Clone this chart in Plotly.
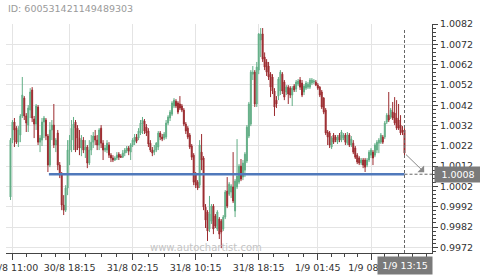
import plotly.graph_objects as go

# ---------------- data ----------------
open_ = [0.99968, 1.00248, 1.00337, 1.00307, 1.00238, 1.00273, 1.00367, 1.00455, 1.00367, 1.00322,
         1.00396, 1.00495, 1.00352, 1.00327, 1.00411, 1.00238, 1.00248, 1.00337, 1.00347, 1.00268,
         1.00125, 1.00298, 1.00322, 1.00224, 1.00283, 1.00125, 1.00076, 0.99928, 0.99903, 1.00012,
         1.00199, 1.00248, 1.00307, 1.00337, 1.00307, 1.00258, 1.00209, 1.00248, 1.00199, 1.00214,
         1.00135, 1.00199, 1.00238, 1.00268, 1.00248, 1.00224, 1.00307, 1.00233, 1.00199, 1.00199,
         1.00224, 1.00174, 1.00160, 1.00150, 1.00160, 1.00179, 1.00169, 1.00164, 1.00184, 1.00194,
         1.00209, 1.00189, 1.00224, 1.00238, 1.00263, 1.00258, 1.00283, 1.00327, 1.00342, 1.00312,
         1.00293, 1.00233, 1.00199, 1.00189, 1.00199, 1.00214, 1.00283, 1.00263, 1.00258, 1.00263,
         1.00332, 1.00357, 1.00376, 1.00416, 1.00440, 1.00431, 1.00426, 1.00416, 1.00396, 1.00327,
         1.00307, 1.00273, 1.00219, 1.00174, 1.00081, 1.00041, 1.00026, 1.00189, 1.00160, 0.99918,
         0.99894, 0.99810, 0.99849, 0.99923, 0.99874, 0.99810, 0.99859, 0.99849, 0.99810, 0.99869,
         0.99997, 0.99982, 0.99992, 1.00017, 0.99899, 1.00017, 1.00041, 1.00120, 1.00066, 1.00100,
         1.00145, 1.00268, 1.00327, 1.00573, 1.00583, 1.00426, 1.00593, 1.00741, 1.00771, 1.00657,
         1.00633, 1.00613, 1.00573, 1.00559, 1.00490, 1.00445, 1.00465, 1.00490, 1.00573, 1.00534,
         1.00485, 1.00509, 1.00504, 1.00470, 1.00514, 1.00500, 1.00524, 1.00544, 1.00529, 1.00485,
         1.00504, 1.00509, 1.00509, 1.00529, 1.00534, 1.00534, 1.00519, 1.00509, 1.00485, 1.00455,
         1.00396, 1.00288, 1.00283, 1.00214, 1.00273, 1.00263, 1.00238, 1.00273, 1.00248, 1.00258,
         1.00273, 1.00233, 1.00273, 1.00224, 1.00233, 1.00209, 1.00174, 1.00160, 1.00135, 1.00150,
         1.00150, 1.00125, 1.00150, 1.00174, 1.00189, 1.00174, 1.00199, 1.00233, 1.00238, 1.00263,
         1.00263, 1.00337, 1.00371, 1.00362, 1.00386, 1.00381, 1.00357, 1.00347, 1.00322, 1.00298,
         1.00298]

high = [1.00258, 1.00347, 1.00357, 1.00317, 1.00317, 1.00376, 1.00559, 1.00465, 1.00381, 1.00421,
        1.00504, 1.00509, 1.00367, 1.00426, 1.00421, 1.00273, 1.00357, 1.00367, 1.00357, 1.00278,
        1.00337, 1.00347, 1.00426, 1.00258, 1.00298, 1.00140, 1.00091, 0.99977, 1.00026, 1.00248,
        1.00273, 1.00347, 1.00362, 1.00347, 1.00322, 1.00298, 1.00273, 1.00263, 1.00248, 1.00224,
        1.00248, 1.00273, 1.00288, 1.00298, 1.00273, 1.00307, 1.00322, 1.00248, 1.00224, 1.00248,
        1.00238, 1.00184, 1.00174, 1.00169, 1.00189, 1.00189, 1.00179, 1.00199, 1.00209, 1.00219,
        1.00219, 1.00233, 1.00258, 1.00278, 1.00278, 1.00307, 1.00347, 1.00362, 1.00352, 1.00327,
        1.00307, 1.00248, 1.00214, 1.00224, 1.00238, 1.00293, 1.00293, 1.00278, 1.00288, 1.00347,
        1.00371, 1.00396, 1.00440, 1.00455, 1.00450, 1.00440, 1.00465, 1.00426, 1.00406, 1.00337,
        1.00317, 1.00283, 1.00229, 1.00184, 1.00091, 1.00051, 1.00248, 1.00278, 1.00169, 0.99933,
        0.99903, 0.99973, 0.99933, 0.99933, 0.99884, 0.99903, 0.99869, 0.99859, 0.99879, 1.00002,
        1.00066, 1.00041, 1.00031, 1.00189, 1.00056, 1.00253, 1.00130, 1.00155, 1.00150, 1.00189,
        1.00322, 1.00436, 1.00593, 1.00613, 1.00593, 1.00633, 1.00775, 1.00800, 1.00800, 1.00680,
        1.00647, 1.00633, 1.00583, 1.00573, 1.00504, 1.00465, 1.00559, 1.00593, 1.00583, 1.00544,
        1.00519, 1.00519, 1.00514, 1.00514, 1.00524, 1.00544, 1.00549, 1.00559, 1.00544, 1.00524,
        1.00539, 1.00534, 1.00554, 1.00554, 1.00549, 1.00544, 1.00529, 1.00514, 1.00495, 1.00460,
        1.00406, 1.00298, 1.00293, 1.00268, 1.00283, 1.00273, 1.00273, 1.00283, 1.00298, 1.00283,
        1.00283, 1.00288, 1.00283, 1.00268, 1.00248, 1.00219, 1.00184, 1.00169, 1.00160, 1.00160,
        1.00160, 1.00160, 1.00199, 1.00209, 1.00199, 1.00233, 1.00248, 1.00258, 1.00283, 1.00273,
        1.00342, 1.00381, 1.00485, 1.00406, 1.00436, 1.00460, 1.00445, 1.00426, 1.00371, 1.00317,
        1.00307]

low = [0.99953, 1.00233, 1.00214, 1.00229, 1.00214, 1.00238, 1.00357, 1.00347, 1.00288, 1.00288,
       1.00357, 1.00337, 1.00258, 1.00298, 1.00224, 1.00189, 1.00219, 1.00258, 1.00248, 1.00091,
       1.00115, 1.00248, 1.00209, 1.00189, 1.00100, 1.00061, 0.99903, 0.99879, 0.99894, 0.99977,
       1.00125, 1.00189, 1.00199, 1.00189, 1.00199, 1.00174, 1.00169, 1.00184, 1.00160, 1.00110,
       1.00125, 1.00174, 1.00209, 1.00224, 1.00199, 1.00199, 1.00209, 1.00150, 1.00189, 1.00184,
       1.00160, 1.00140, 1.00140, 1.00145, 1.00150, 1.00150, 1.00160, 1.00160, 1.00169, 1.00184,
       1.00174, 1.00150, 1.00214, 1.00224, 1.00233, 1.00248, 1.00273, 1.00278, 1.00278, 1.00268,
       1.00214, 1.00189, 1.00169, 1.00174, 1.00189, 1.00199, 1.00248, 1.00243, 1.00248, 1.00253,
       1.00322, 1.00342, 1.00367, 1.00406, 1.00406, 1.00376, 1.00396, 1.00386, 1.00317, 1.00278,
       1.00253, 1.00204, 1.00150, 1.00026, 1.00012, 1.00002, 1.00012, 1.00100, 0.99903, 0.99815,
       0.99751, 0.99795, 0.99835, 0.99785, 0.99815, 0.99800, 0.99761, 0.99716, 0.99800, 0.99859,
       0.99913, 0.99973, 0.99963, 0.99938, 0.99869, 1.00007, 1.00031, 1.00046, 1.00051, 1.00066,
       1.00135, 1.00258, 1.00317, 1.00544, 1.00411, 1.00411, 1.00573, 1.00657, 1.00633, 1.00593,
       1.00564, 1.00544, 1.00460, 1.00475, 1.00367, 1.00406, 1.00445, 1.00470, 1.00475, 1.00445,
       1.00470, 1.00426, 1.00455, 1.00416, 1.00485, 1.00485, 1.00514, 1.00495, 1.00460, 1.00470,
       1.00495, 1.00500, 1.00500, 1.00519, 1.00524, 1.00514, 1.00495, 1.00460, 1.00401, 1.00376,
       1.00273, 1.00224, 1.00209, 1.00204, 1.00229, 1.00238, 1.00229, 1.00238, 1.00238, 1.00248,
       1.00224, 1.00224, 1.00214, 1.00214, 1.00179, 1.00155, 1.00130, 1.00125, 1.00125, 1.00110,
       1.00091, 1.00115, 1.00140, 1.00160, 1.00125, 1.00164, 1.00184, 1.00184, 1.00229, 1.00229,
       1.00253, 1.00327, 1.00337, 1.00352, 1.00347, 1.00322, 1.00298, 1.00298, 1.00273, 1.00273,
       1.00174]

close = [1.00248, 1.00337, 1.00298, 1.00238, 1.00298, 1.00367, 1.00470, 1.00367, 1.00332, 1.00406,
         1.00485, 1.00357, 1.00327, 1.00416, 1.00238, 1.00258, 1.00337, 1.00357, 1.00268, 1.00125,
         1.00298, 1.00322, 1.00224, 1.00248, 1.00125, 1.00076, 0.99928, 0.99903, 1.00012, 1.00199,
         1.00248, 1.00307, 1.00327, 1.00199, 1.00258, 1.00209, 1.00248, 1.00199, 1.00214, 1.00135,
         1.00199, 1.00238, 1.00268, 1.00248, 1.00224, 1.00298, 1.00233, 1.00199, 1.00209, 1.00233,
         1.00174, 1.00160, 1.00150, 1.00160, 1.00174, 1.00164, 1.00164, 1.00184, 1.00199, 1.00209,
         1.00194, 1.00224, 1.00248, 1.00263, 1.00243, 1.00293, 1.00332, 1.00347, 1.00293, 1.00283,
         1.00229, 1.00199, 1.00184, 1.00199, 1.00233, 1.00283, 1.00263, 1.00253, 1.00278, 1.00332,
         1.00362, 1.00386, 1.00431, 1.00445, 1.00416, 1.00386, 1.00406, 1.00396, 1.00327, 1.00293,
         1.00263, 1.00214, 1.00164, 1.00041, 1.00026, 1.00012, 1.00224, 1.00150, 0.99918, 0.99854,
         0.99800, 0.99884, 0.99923, 0.99810, 0.99825, 0.99894, 0.99785, 0.99795, 0.99869, 0.99992,
         0.99923, 1.00031, 1.00022, 0.99948, 1.00046, 1.00071, 1.00120, 1.00056, 1.00135, 1.00179,
         1.00312, 1.00426, 1.00583, 1.00583, 1.00426, 1.00608, 1.00771, 1.00771, 1.00647, 1.00608,
         1.00583, 1.00559, 1.00509, 1.00490, 1.00411, 1.00426, 1.00549, 1.00583, 1.00490, 1.00460,
         1.00509, 1.00475, 1.00470, 1.00504, 1.00495, 1.00534, 1.00539, 1.00509, 1.00470, 1.00514,
         1.00529, 1.00524, 1.00544, 1.00544, 1.00539, 1.00519, 1.00504, 1.00470, 1.00411, 1.00386,
         1.00283, 1.00263, 1.00224, 1.00258, 1.00238, 1.00248, 1.00263, 1.00248, 1.00288, 1.00273,
         1.00238, 1.00273, 1.00224, 1.00253, 1.00189, 1.00164, 1.00140, 1.00135, 1.00150, 1.00125,
         1.00115, 1.00150, 1.00189, 1.00199, 1.00160, 1.00224, 1.00238, 1.00248, 1.00273, 1.00238,
         1.00332, 1.00371, 1.00347, 1.00396, 1.00357, 1.00332, 1.00307, 1.00307, 1.00283, 1.00288,
         1.00184]

bars = list(range(len(close)))

tick_bars = [1, 30, 62, 94, 126, 156, 183]
tick_labels = ["30/8 11:00", "30/8 18:15", "31/8 02:15", "31/8 10:15",
               "31/8 18:15", "1/9 01:45", "1/9 08:30"]
last_label = "1/9 13:15"

level = 1.0008          # support / resistance level
level_from = 19.5       # bar where the level starts
forecast_bar = 210      # end of projection arrow
forecast_price = 1.0009

chart_id = "ID: 600531421149489303"
watermark = "www.autochartist.com"

# ---------------- style ----------------
GREEN = "#62ae86"
RED = "#9b2a2e"
FONT = "DejaVu Sans"
x_range = [-2.28, 213.96]
y_range = [0.99692, 1.0082]

# minor x ticks: quarter steps between major ticks
minor_x = []
for a, b in zip(tick_bars[:-1], tick_bars[1:]):
    step = (b - a) / 4
    minor_x += [a + step * k for k in (1, 2, 3)]
minor_x += [tick_bars[-1] + 7 * k for k in (1, 2, 3, 4)]

last = bars[-1]

fig = go.Figure(go.Candlestick(
    x=bars, open=open_, high=high, low=low, close=close,
    increasing=dict(line=dict(color=GREEN, width=1), fillcolor=GREEN),
    decreasing=dict(line=dict(color=RED, width=1), fillcolor=RED),
    whiskerwidth=0, hoverinfo="skip", showlegend=False,
))

fig.update_layout(
    width=480, height=275,
    margin=dict(l=6, r=48, t=24, b=22, autoexpand=False),
    paper_bgcolor="white", plot_bgcolor="white",
    font=dict(family=FONT, size=9.5, color="#333"),
    showlegend=False,
    xaxis=dict(
        range=x_range, rangeslider=dict(visible=False),
        automargin=False,
        tickmode="array", tickvals=tick_bars, ticktext=tick_labels,
        ticklabeloverflow="allow",
        ticks="outside", ticklen=6, tickcolor="#444",
        showgrid=True, gridcolor="#e4e4e4", gridwidth=1,
        showline=True, linecolor="#444", linewidth=1,
        zeroline=False,
        minor=dict(tickvals=minor_x, ticks="outside", ticklen=3,
                   tickcolor="#444", showgrid=False),
        tickfont=dict(size=9.5, color="#333"),
    ),
    yaxis=dict(
        range=y_range, side="right",
        automargin=False,
        tick0=0.9972, dtick=0.001, tickformat=".4f",
        ticklabeloverflow="allow",
        ticks="outside", ticklen=5, tickcolor="#444",
        showgrid=True, gridcolor="#e4e4e4", gridwidth=1,
        showline=True, linecolor="#444", linewidth=1,
        zeroline=False,
        minor=dict(dtick=0.0002, ticks="outside", ticklen=3,
                   tickcolor="#444", showgrid=False),
        tickfont=dict(size=9.5, color="#333"),
    ),
)

# level line
fig.add_shape(type="line", xref="x", yref="y", x0=level_from, x1=last,
              y0=level, y1=level, line=dict(color="#5079bb", width=2.5))
# dashed continuation to the axis
fig.add_shape(type="line", xref="x", yref="y", x0=last, x1=x_range[1],
              y0=level, y1=level, line=dict(color="#666", width=1, dash="3px,2px"))
# dashed vertical at the last bar
fig.add_shape(type="line", xref="x", yref="y", x0=last, x1=last,
              y0=y_range[0], y1=max(high), line=dict(color="#666", width=1, dash="3px,2px"))

# projection arrow
fig.add_annotation(x=forecast_bar, y=forecast_price, ax=last, ay=close[-1],
                   xref="x", yref="y", axref="x", ayref="y", text="",
                   showarrow=True, arrowhead=1, arrowsize=1.6, arrowwidth=1,
                   arrowcolor="#888")

# labels
fig.add_annotation(x=1, y=level, xref="paper", yref="y", xanchor="left",
                   yanchor="middle", xshift=2, text="1.0008", showarrow=False,
                   bgcolor="#7a7a7a", width=44, height=13,
                   font=dict(color="white", size=9.5, family=FONT))
fig.add_annotation(x=last, y=0, xref="x", yref="paper", xanchor="center",
                   yanchor="top", yshift=-3, text=last_label, showarrow=False,
                   bgcolor="#7a7a7a", width=52, height=15,
                   font=dict(color="white", size=9.5, family=FONT))
fig.add_annotation(x=0, y=1, xref="paper", yref="paper", xanchor="left",
                   yanchor="bottom", xshift=0, yshift=8, text=chart_id,
                   showarrow=False, font=dict(color="#9a9a9a", size=9.5, family=FONT))
fig.add_annotation(x=0.47, y=0.022, xref="paper", yref="paper", xanchor="center",
                   yanchor="middle", text=watermark, showarrow=False,
                   font=dict(color="#c4c4c4", size=10, family=FONT))

fig.write_html("out.html")
